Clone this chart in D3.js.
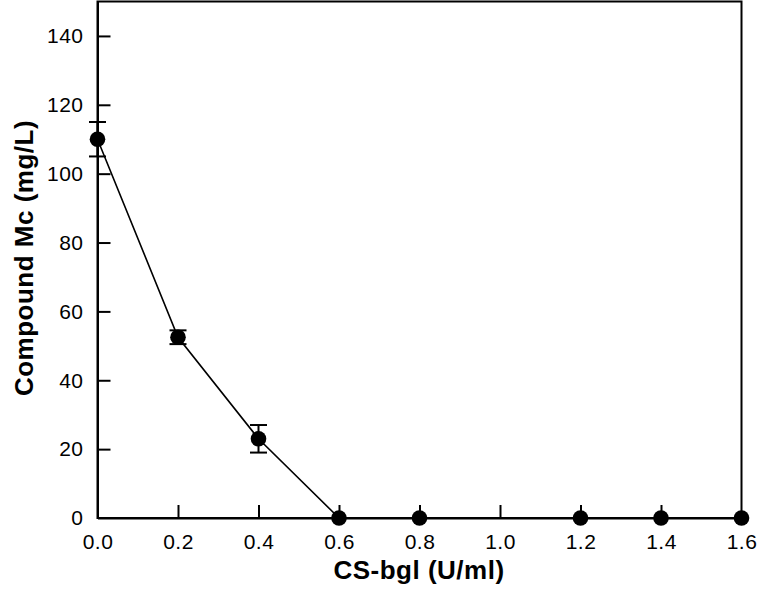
<!DOCTYPE html>
<html>
<head>
<meta charset="utf-8">
<script src="https://cdn.jsdelivr.net/npm/d3@7"></script>
<style>
  html, body { margin: 0; padding: 0; background: #fff; }
  svg { display: block; }
  text { font-family: Arial, "Liberation Sans", sans-serif; fill: #000; }
</style>
</head>
<body>
<svg id="chart" width="758" height="589"></svg>
<script>
const doses = [0, 0.2, 0.4, 0.6, 0.8, 1.2, 1.4, 1.6];
const mcValues = [110, 52.5, 23, 0, 0, 0, 0, 0];
const mcErrors = [5, 2, 4, 0, 0, 0, 0, 0];
const xTicks = [0, 0.2, 0.4, 0.6, 0.8, 1.0, 1.2, 1.4, 1.6];
const yTicks = [0, 20, 40, 60, 80, 100, 120, 140];
const xTitle = "CS-bgl (U/ml)";
const yTitle = "Compound Mc (mg/L)";

(function () {
const data = doses.map((d, i) => ({ x: d, y: mcValues[i], e: mcErrors[i] }));

const svg = d3.select("#chart");
const pL = 97.5, pR = 741.5, pT = 1.5, pB = 518;
const x = d3.scaleLinear().domain([0, 1.6]).range([pL, pR]);
const y = d3.scaleLinear().domain([0, 150]).range([pB, pT]);

// frame
svg.append("rect").attr("x", pL).attr("y", pT)
  .attr("width", pR - pL).attr("height", pB - pT)
  .attr("fill", "none").attr("stroke", "#000").attr("stroke-width", 2);

// x axis
const xAxis = d3.axisBottom(x).tickValues(xTicks).tickFormat(d3.format(".1f"))
  .tickSizeInner(-13).tickSizeOuter(0).tickPadding(16.5);
const gx = svg.append("g").attr("transform", `translate(0,${pB})`).call(xAxis);
gx.select(".domain").attr("stroke-width", 2);
gx.selectAll(".tick line").attr("stroke-width", 2);
gx.selectAll(".tick line").filter(d => d === 0 || d === 1.6).remove();
gx.selectAll(".tick text").style("font-size", "21px").style("letter-spacing", "0.5px")
  .attr("dy", "0.71em");

// y axis
const yAxis = d3.axisLeft(y).tickValues(yTicks)
  .tickSizeInner(-13).tickSizeOuter(0).tickPadding(14);
const gy = svg.append("g").attr("transform", `translate(${pL},0)`).call(yAxis);
gy.select(".domain").attr("stroke-width", 2);
gy.selectAll(".tick line").attr("stroke-width", 2);
gy.selectAll(".tick line").filter(d => d === 0).remove();
gy.selectAll(".tick text").style("font-size", "21px").style("letter-spacing", "0.5px");

// line
svg.append("path").datum(data)
  .attr("fill", "none").attr("stroke", "#000").attr("stroke-width", 1.6)
  .attr("d", d3.line().x(d => x(d.x)).y(d => y(d.y)));

// error bars
const eb = svg.append("g").selectAll("g").data(data.filter(d => d.e > 0)).join("g");
eb.append("line").attr("x1", d => x(d.x)).attr("x2", d => x(d.x))
  .attr("y1", d => y(d.y + d.e)).attr("y2", d => y(d.y - d.e))
  .attr("stroke", "#000").attr("stroke-width", 2);
[1, -1].forEach(s => {
  eb.append("line").attr("x1", d => x(d.x) - 8.5).attr("x2", d => x(d.x) + 8.5)
    .attr("y1", d => y(d.y + s * d.e)).attr("y2", d => y(d.y + s * d.e))
    .attr("stroke", "#000").attr("stroke-width", 2);
});

// markers
svg.append("g").selectAll("circle").data(data).join("circle")
  .attr("cx", d => x(d.x)).attr("cy", d => y(d.y)).attr("r", 7.8).attr("fill", "#000");

// titles
svg.append("text").attr("x", 419).attr("y", 579).attr("text-anchor", "middle")
  .style("font-size", "26px").style("font-weight", "bold").style("letter-spacing", "0.5px")
  .text(xTitle);
svg.append("text").attr("transform", "translate(33,258) rotate(-90)")
  .attr("text-anchor", "middle")
  .style("font-size", "26px").style("font-weight", "bold").style("letter-spacing", "0.5px")
  .text(yTitle);
})();
</script>
</body>
</html>
